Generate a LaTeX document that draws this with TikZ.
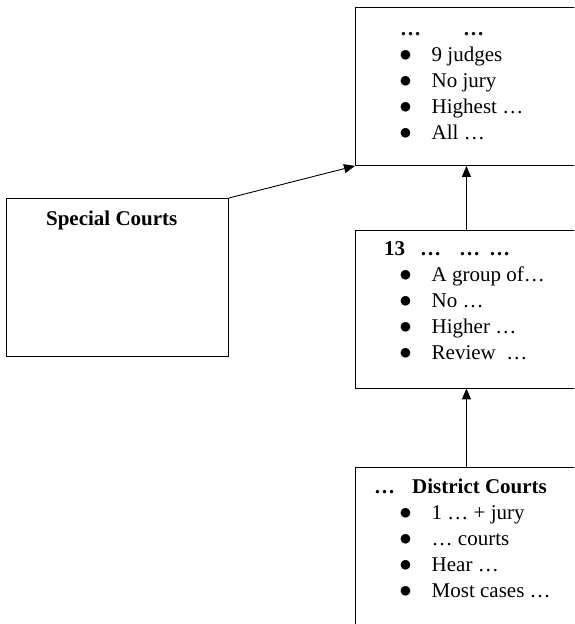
\documentclass[tikz,border=0pt]{standalone}
\usepackage{fontspec}
\setmainfont{Liberation Serif}
\newfontfamily\dotfont{DejaVu Sans}
\usetikzlibrary{arrows.meta,positioning,calc}

\newcommand{\bul}{\makebox[31.5pt][l]{\raisebox{2.5pt}{\dotfont\fontsize{12.5}{12.5}\selectfont ●}}}

\begin{document}
\begin{tikzpicture}[x=1pt,y=-1pt,>={Triangle[length=11pt,width=9pt]},
  courtbox/.style={draw,line width=0.9pt,minimum width=222pt,minimum height=158pt,inner sep=0pt,anchor=north west},
  courttext/.style={anchor=base west,inner sep=0pt,font=\fontsize{21}{26}\selectfont}]
\clip (0,0) rectangle (574,624);
\node[courtbox] (supreme) at (355,7) {};
\node[courtbox] (special) at (6,198) {};
\node[courtbox] (appeals) at (355,229.5) {};
\node[courtbox] (district) at (355,467) {};
% box contents
\node[courttext] (supremetext) at ([shift={(45,28)}]supreme.north west) {%
  \begin{tabular}[t]{@{}l@{}}
  \textbf{…\hspace{42pt}…}\\
  \bul 9 judges\\
  \bul No jury\\
  \bul Highest …\\
  \bul All …
  \end{tabular}};
\node[courttext,anchor=base] (specialtext) at ([shift={(-5.7,27)}]special.north) {\textbf{Special Courts}};
\node[courttext] (appealstext) at ([shift={(29,25.5)}]appeals.north west) {%
  \begin{tabular}[t]{@{}l@{}}
  \textbf{13\hspace{15pt}…\hspace{18pt}…\hspace{9pt}…}\\
  \hspace*{16pt}\bul A group of…\\
  \hspace*{16pt}\bul No …\\
  \hspace*{16pt}\bul Higher …\\
  \hspace*{16pt}\bul Review \ …
  \end{tabular}};
\node[courttext] (districttext) at ([shift={(19,26)}]district.north west) {%
  \begin{tabular}[t]{@{}l@{}}
  \textbf{…\hspace{17pt}District Courts}\\
  \hspace*{26pt}\bul 1 … + jury\\
  \hspace*{26pt}\bul … courts\\
  \hspace*{26pt}\bul Hear …\\
  \hspace*{26pt}\bul Most cases …
  \end{tabular}};
% arrows
\draw[->,line width=0.9pt] (special.north east) -- (supreme.south west);
\draw[->,line width=0.9pt] (appeals.north) -- (supreme.south);
\draw[->,line width=0.9pt] (district.north) -- (appeals.south);
\end{tikzpicture}
\end{document}
